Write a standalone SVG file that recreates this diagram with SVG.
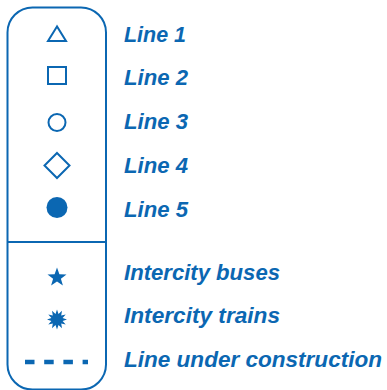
<svg xmlns="http://www.w3.org/2000/svg" width="387" height="390" viewBox="0 0 387 390">
<style>
.lbl{font-family:"Liberation Sans",Arial,sans-serif;font-weight:bold;font-style:italic;font-size:21.5px;fill:#0b67b2}
.o{fill:none;stroke:#0b67b2;stroke-width:2}
.f{fill:#0b67b2}
</style>
<rect x="7.5" y="7.5" width="98.5" height="382" rx="25" ry="25" class="o"/>
<line x1="7.5" y1="242" x2="106" y2="242" class="o"/>
<g id="line1"><polygon points="57,26.5 48,41 66,41" class="o"/><text class="lbl" x="124" y="42" textLength="62" lengthAdjust="spacingAndGlyphs">Line 1</text></g>
<g id="line2"><rect x="48" y="67" width="18" height="17" class="o"/><text class="lbl" x="124" y="85" textLength="64" lengthAdjust="spacingAndGlyphs">Line 2</text></g>
<g id="line3"><circle cx="57" cy="122.5" r="8.5" class="o"/><text class="lbl" x="124" y="129" textLength="64" lengthAdjust="spacingAndGlyphs">Line 3</text></g>
<g id="line4"><polygon points="57,153 69.5,165.5 57,178 44.5,165.5" class="o"/><text class="lbl" x="124" y="173" textLength="64" lengthAdjust="spacingAndGlyphs">Line 4</text></g>
<g id="line5"><circle cx="57" cy="207.5" r="10.5" class="f"/><text class="lbl" x="124" y="217" textLength="64" lengthAdjust="spacingAndGlyphs">Line 5</text></g>
<g id="buses"><polygon points="57,267.5 59.4,274.2 66.5,274.4 60.9,278.8 62.9,285.6 57,281.6 51.1,285.6 53.1,278.8 47.5,274.4 54.6,274.2" class="f"/><text class="lbl" x="124" y="280" textLength="156" lengthAdjust="spacingAndGlyphs">Intercity buses</text></g>
<g id="trains"><polygon class="f" points="67,319.5 62.6,321.0 65.7,324.5 61.2,323.6 62,328.2 58.5,325.1 57,329.5 55.5,325.1 52,328.2 52.8,323.6 48.3,324.5 51.4,321.0 47,319.5 51.4,318.0 48.3,314.5 52.8,315.4 52,310.8 55.5,313.9 57,309.5 58.5,313.9 62,310.8 61.2,315.4 65.7,314.5 62.6,318.0"/><text class="lbl" x="124" y="323" textLength="156" lengthAdjust="spacingAndGlyphs">Intercity trains</text></g>
<g id="construction"><line x1="25" y1="362" x2="88" y2="362" stroke="#0b67b2" stroke-width="4.5" stroke-dasharray="9.5 9.7"/><text class="lbl" x="124" y="367" textLength="258" lengthAdjust="spacingAndGlyphs">Line under construction</text></g>
</svg>
